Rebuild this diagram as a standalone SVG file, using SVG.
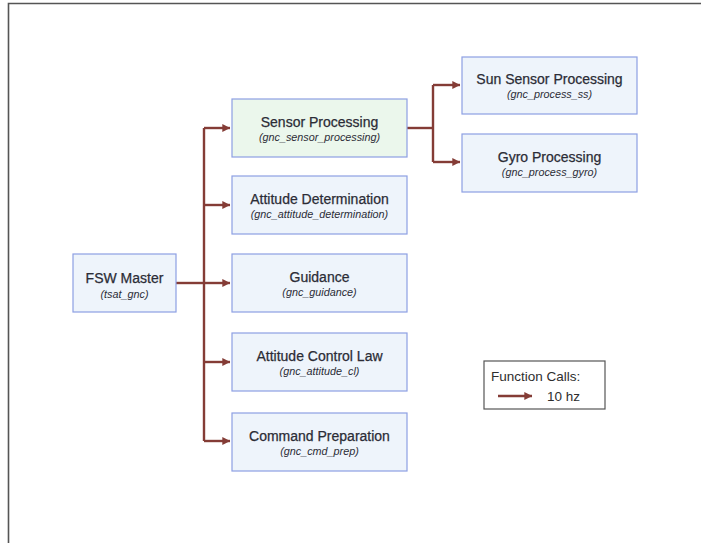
<svg xmlns="http://www.w3.org/2000/svg" width="701" height="543" viewBox="0 0 701 543">
<style>
.box{fill:#eef4fb;stroke:#8d9fe3;stroke-width:1.2}
.green{fill:#ebf7ec}
.t{font-family:"Liberation Sans",Arial,sans-serif;font-size:14px;fill:#2b2c36;text-anchor:middle;stroke:#2b2c36;stroke-width:0.25}
.s{font-family:"Liberation Sans",Arial,sans-serif;font-size:10.8px;font-style:italic;fill:#2b2c36;text-anchor:middle}
.c{fill:none;stroke:#843c36;stroke-width:2.4}
.lt{font-family:"Liberation Sans",Arial,sans-serif;font-size:13.5px;fill:#2e2e2e}
</style>
<defs>
<marker id="ah" markerWidth="4" markerHeight="4" refX="3.2" refY="2" orient="auto" markerUnits="strokeWidth">
<path d="M0,0.3 L3.3,2 L0,3.7 Z" fill="#843c36"/>
</marker>
</defs>
<rect width="701" height="543" fill="#ffffff"/>
<path d="M8.5,543 V3.5 H701" fill="none" stroke="#555" stroke-width="1.6"/>
<g id="connectors">
<path class="c" d="M176,283 H204"/>
<path class="c" d="M204,128 V441"/>
<path class="c" d="M204,128 H230" marker-end="url(#ah)"/>
<path class="c" d="M204,205 H230" marker-end="url(#ah)"/>
<path class="c" d="M204,283 H230" marker-end="url(#ah)"/>
<path class="c" d="M204,362 H230" marker-end="url(#ah)"/>
<path class="c" d="M204,441 H230" marker-end="url(#ah)"/>
<path class="c" d="M407,128 H433"/>
<path class="c" d="M433,85 V162"/>
<path class="c" d="M433,85 H460" marker-end="url(#ah)"/>
<path class="c" d="M433,162 H460" marker-end="url(#ah)"/>
</g>
<g id="fsw-master">
<rect class="box" x="73" y="254" width="103" height="58"/>
<text class="t" x="124.5" y="283">FSW Master</text>
<text class="s" x="124.5" y="298">(tsat_gnc)</text>
</g>
<g id="sensor-processing">
<rect class="box green" x="232" y="99" width="175" height="58"/>
<text class="t" x="319.5" y="127">Sensor Processing</text>
<text class="s" x="319.5" y="141">(gnc_sensor_processing)</text>
</g>
<g id="attitude-determination">
<rect class="box" x="232" y="176" width="175" height="58"/>
<text class="t" x="319.5" y="204">Attitude Determination</text>
<text class="s" x="319.5" y="218">(gnc_attitude_determination)</text>
</g>
<g id="guidance">
<rect class="box" x="232" y="254" width="175" height="58"/>
<text class="t" x="319.5" y="282">Guidance</text>
<text class="s" x="319.5" y="296">(gnc_guidance)</text>
</g>
<g id="attitude-control-law">
<rect class="box" x="232" y="333" width="175" height="58"/>
<text class="t" x="319.5" y="361">Attitude Control Law</text>
<text class="s" x="319.5" y="375">(gnc_attitude_cl)</text>
</g>
<g id="command-preparation">
<rect class="box" x="232" y="413" width="175" height="58"/>
<text class="t" x="319.5" y="441">Command Preparation</text>
<text class="s" x="319.5" y="455">(gnc_cmd_prep)</text>
</g>
<g id="sun-sensor-processing">
<rect class="box" x="462" y="57" width="175" height="57"/>
<text class="t" x="549.5" y="84">Sun Sensor Processing</text>
<text class="s" x="549.5" y="98">(gnc_process_ss)</text>
</g>
<g id="gyro-processing">
<rect class="box" x="462" y="134" width="175" height="58"/>
<text class="t" x="549.5" y="162">Gyro Processing</text>
<text class="s" x="549.5" y="176">(gnc_process_gyro)</text>
</g>
<g id="legend">
<rect x="484" y="361" width="121" height="48" fill="#ffffff" stroke="#555" stroke-width="1.2"/>
<text class="lt" x="491" y="381">Function Calls:</text>
<path class="c" d="M498,396 H532" stroke-width="1.8" marker-end="url(#ah)"/>
<text class="lt" x="547" y="401">10 hz</text>
</g>
</svg>
